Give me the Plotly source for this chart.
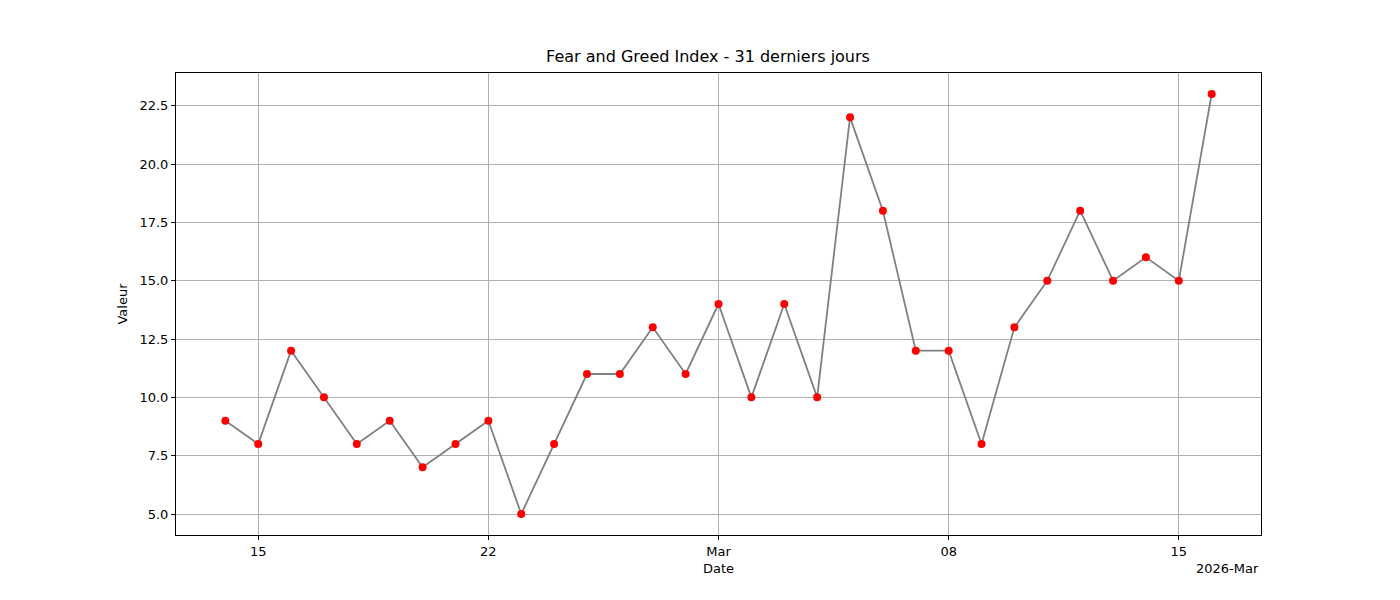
import plotly.graph_objects as go
import pandas as pd

dates = pd.date_range("2026-02-14", "2026-03-16", freq="D")
values = [9, 8, 12, 10, 8, 9, 7, 8, 9, 5, 8, 11, 11, 13, 11, 14, 10, 14, 10, 22, 18, 12, 12, 8, 13, 15, 18, 15, 16, 15, 23]
tick_dates = ["2026-02-15", "2026-02-22", "2026-03-01", "2026-03-08", "2026-03-15"]
tick_labels = ["15", "22", "Mar", "08", "15"]

fig = go.Figure()
fig.add_trace(go.Scatter(x=dates, y=values, mode="lines", line=dict(color="grey", width=1.8), showlegend=False))
fig.add_trace(go.Scatter(x=dates, y=values, mode="markers", marker=dict(color="red", size=8), showlegend=False))

axis_common = dict(showline=True, linecolor="black", linewidth=1, mirror=True, showgrid=True,
                   gridcolor="#b0b0b0", gridwidth=1, ticks="outside", ticklen=4, tickcolor="black",
                   zeroline=False, tickfont=dict(size=13, color="black"), automargin=False)
fig.update_layout(
    width=1400, height=600, plot_bgcolor="white", paper_bgcolor="white",
    font=dict(family="DejaVu Sans", size=13, color="black"),
    margin=dict(l=168, r=147, t=65, b=73),
    title=dict(text="Fear and Greed Index - 31 derniers jours", x=0.5, xanchor="center", y=0.91, yanchor="bottom", font=dict(size=16)),
    xaxis=dict(axis_common, range=["2026-02-12 12:00", "2026-03-17 12:00"], tickvals=tick_dates, ticktext=tick_labels,
               title=dict(text="Date", standoff=6, font=dict(size=13))),
    yaxis=dict(axis_common, range=[4.1, 23.9], tickvals=[5, 7.5, 10, 12.5, 15, 17.5, 20, 22.5],
               ticktext=["5.0", "7.5", "10.0", "12.5", "15.0", "17.5", "20.0", "22.5"],
               title=dict(text="Valeur", standoff=8, font=dict(size=13))),
)
fig.add_annotation(text="2026-Mar", xref="paper", yref="paper", x=1, y=0, xanchor="right", yanchor="top",
                   yshift=-24, showarrow=False, font=dict(size=13))
fig.write_html("out.html")
